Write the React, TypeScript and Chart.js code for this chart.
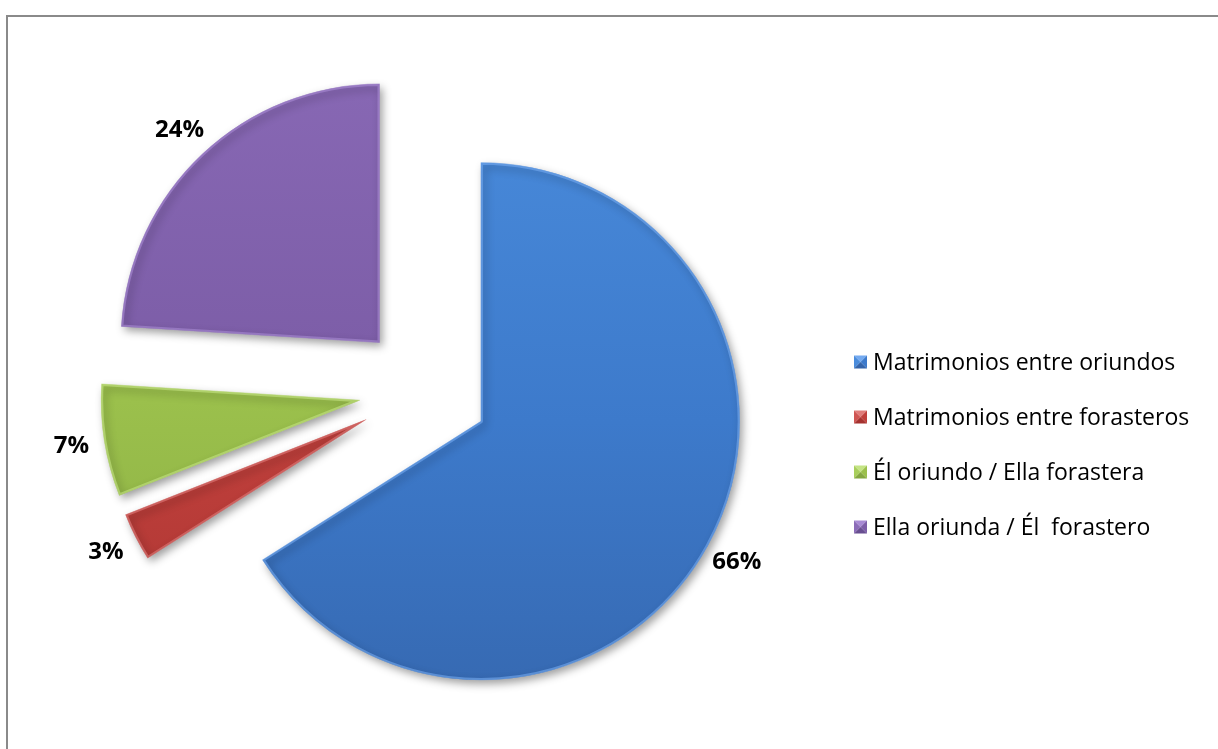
import React, { useEffect, useRef } from "react";
import { Chart, registerables } from "chart.js";

Chart.register(...registerables);

const categories = [
  "Matrimonios entre oriundos",
  "Matrimonios entre forasteros",
  "Él oriundo / Ella forastera",
  "Ella oriunda / Él  forastero",
];
const shares = [66, 3, 7, 24];
const baseColors = ["#3d7acb", "#c0403c", "#9bc04c", "#7d5ea8"];
const lightColors = ["#4a8cdc", "#cf5552", "#a9cf5c", "#8b6bb8"];
const darkColors = ["#3464aa", "#a5322f", "#84a740", "#684e91"];
const edgeColors = ["#74aaf0", "#e07c79", "#c4e484", "#a88ad4"];

const explodePlugin = {
  id: "explode",
  beforeDatasetDraw(chart: any, args: any, opts: any) {
    const ctx = chart.ctx;
    const meta = args.meta;
    meta.data.forEach((arc: any) => {
      const mid = (arc.startAngle + arc.endAngle) / 2;
      ctx.save();
      ctx.translate(Math.cos(mid) * opts.distance, Math.sin(mid) * opts.distance);
      ctx.shadowColor = "rgba(0,0,0,0.38)";
      ctx.shadowBlur = 9;
      ctx.shadowOffsetX = 3;
      ctx.shadowOffsetY = 4;
      arc.draw(ctx);
      ctx.restore();
    });
    return false;
  },
};

const labelPlugin = {
  id: "pctLabels",
  afterDatasetsDraw(chart: any, _args: any, opts: any) {
    const ctx = chart.ctx;
    const meta = chart.getDatasetMeta(0);
    const data = chart.data.datasets[0].data as number[];
    const total = data.reduce((a, b) => a + b, 0);
    const ex = chart.options.plugins.explode.distance;
    ctx.save();
    ctx.font = opts.font;
    ctx.fillStyle = "#000";
    ctx.textAlign = "center";
    ctx.textBaseline = "middle";
    meta.data.forEach((arc: any, i: number) => {
      const mid = (arc.startAngle + arc.endAngle) / 2;
      const d = ex + arc.outerRadius + opts.gap;
      const x = arc.x + Math.cos(mid) * d;
      const y = arc.y + Math.sin(mid) * d;
      ctx.fillText(Math.round((data[i] / total) * 100) + "%", x, y);
    });
    ctx.restore();
  },
};

const legendPlugin = {
  id: "sideLegend",
  afterDraw(chart: any, _args: any, opts: any) {
    const ctx = chart.ctx;
    const labels = chart.data.labels as string[];
    const s = opts.box;
    ctx.save();
    ctx.font = opts.font;
    ctx.textBaseline = "middle";
    ctx.textAlign = "left";
    labels.forEach((lab, i) => {
      const cy = opts.top + i * opts.gap;
      const x0 = opts.x;
      const y0 = cy - s / 2;
      const cx = x0 + s / 2;
      const tri = (pts: number[][], col: string) => {
        ctx.beginPath();
        ctx.moveTo(pts[0][0], pts[0][1]);
        for (let k = 1; k < pts.length; k++) ctx.lineTo(pts[k][0], pts[k][1]);
        ctx.closePath();
        ctx.fillStyle = col;
        ctx.fill();
      };
      tri([[x0, y0], [x0 + s, y0], [cx, cy]], edgeColors[i]);
      tri([[x0, y0], [cx, cy], [x0, y0 + s]], lightColors[i]);
      tri([[x0 + s, y0], [x0 + s, y0 + s], [cx, cy]], baseColors[i]);
      tri([[x0, y0 + s], [cx, cy], [x0 + s, y0 + s]], darkColors[i]);
      ctx.fillStyle = "#000";
      ctx.fillText(lab, x0 + s + opts.textGap, cy + 1);
    });
    ctx.restore();
  },
};

export default function App() {
  const ref = useRef<HTMLCanvasElement | null>(null);
  useEffect(() => {
    if (!ref.current) return;
    const chart = new Chart(ref.current, {
      type: "pie",
      data: {
        labels: categories,
        datasets: [
          {
            data: shares,
            radius: 259,
            borderWidth: 2,
            borderAlign: "inner",
            borderColor: (c: any) => edgeColors[c.dataIndex] + "99",
            backgroundColor: (c: any) => {
              const chart = c.chart;
              const area = chart.chartArea;
              const i = c.dataIndex;
              if (!area || i === undefined) return baseColors[i ?? 0];
              const g = chart.ctx.createLinearGradient(0, area.top, 0, area.bottom);
              g.addColorStop(0, lightColors[i]);
              g.addColorStop(0.5, baseColors[i]);
              g.addColorStop(1, darkColors[i]);
              return g;
            },
          } as any,
        ],
      },
      options: {
        responsive: false,
        animation: false,
        layout: { padding: { left: 0, right: 370, top: 31, bottom: 0 } },
        plugins: {
          legend: { display: false },
          tooltip: { enabled: false },
          explode: { distance: 65 },
          pctLabels: { gap: 33, font: "bold 24px 'Open Sans'" },
          sideLegend: { x: 854, top: 362, gap: 55, box: 13, textGap: 6, font: "23px 'Open Sans'" },
        } as any,
      },
      plugins: [explodePlugin, labelPlugin, legendPlugin],
    });
    return () => chart.destroy();
  }, []);
  return (
    <div style={{ position: "absolute", left: 0, top: 0, width: 1218, height: 749, background: "#fff" }}>
      <style>{`body{margin:0;background:#fff}`}</style>
      <div
        style={{
          position: "absolute",
          left: 6,
          top: 15,
          width: 1230,
          height: 760,
          borderTop: "2px solid #8a8a8a",
          borderLeft: "2px solid #8a8a8a",
          boxSizing: "border-box",
        }}
      />
      <canvas ref={ref} width={1218} height={749} style={{ position: "absolute", left: 0, top: 0 }} />
    </div>
  );
}
